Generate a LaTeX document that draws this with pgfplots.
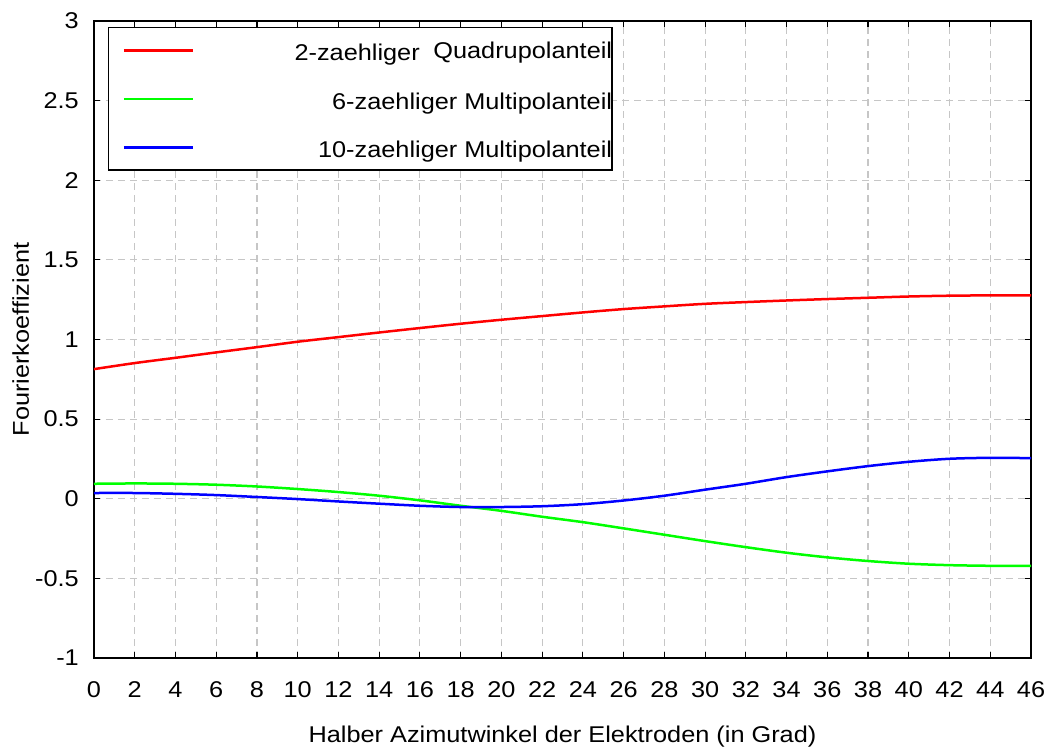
\documentclass[border=0pt]{standalone}
\usepackage{fontspec}
\setmainfont[FakeStretch=1.11]{Liberation Sans}
\usepackage{pgfplots}
\pgfplotsset{compat=1.18}

\pgfplotstableread{
x     a2     a6      a10
0     0.814  0.094   0.036
2     0.852  0.096   0.036
4     0.885  0.094   0.031
6     0.919  0.088   0.023
8     0.952  0.077   0.011
10    0.986  0.061  -0.002
12    1.015  0.042  -0.017
14    1.044  0.019  -0.031
16    1.072 -0.010  -0.044
18    1.099 -0.044  -0.052
20    1.124 -0.076  -0.052
22    1.147 -0.113  -0.047
24    1.170 -0.147  -0.034
26    1.191 -0.186  -0.011
28    1.208 -0.226   0.019
30    1.224 -0.266   0.057
32    1.235 -0.304   0.094
34    1.245 -0.339   0.136
36    1.254 -0.368   0.172
38    1.262 -0.391   0.205
40    1.270 -0.408   0.232
42    1.275 -0.417   0.251
44    1.277 -0.421   0.257
46    1.277 -0.421   0.255
}\coeffs

\newcommand\chartfont{\fontsize{22.8bp}{27bp}\selectfont}
\newcommand\entry[1]{\makebox[404bp][r]{\rule[-5bp]{0pt}{27bp}#1\hspace*{-14bp}}}

\begin{document}
\begin{tikzpicture}
\begin{axis}[
  at={(0,0)}, anchor=south west,
  scale only axis, width=937bp, height=637bp,
  xmin=0, xmax=46, ymin=-1, ymax=3,
  xtick={0,2,...,46},
  ytick={-1,-0.5,0,0.5,1,1.5,2,2.5,3},
  yticklabels={-1,-0.5,0,0.5,1,1.5,2,2.5,3},
  tick align=inside,
  major tick length=6bp,
  tick style={black, line width=1.1bp},
  axis line style={black, line width=1.3bp},
  grid=major,
  major grid style={gray!45, line width=1.1bp, dash pattern=on 7bp off 5bp},
  /pgf/number format/assume math mode=true,
  tick label style={font=\chartfont},
  xticklabel style={anchor=base, inner sep=0pt, yshift=-39bp},
  yticklabel style={anchor=east, inner sep=0pt, xshift=-15bp},
  label style={font=\chartfont},
  xlabel={Halber Azimutwinkel der Elektroden (in Grad)},
  ylabel={Fourierkoeffizient},
  xlabel style={at={(axis description cs:0.5,-0.133)}, anchor=base},
  ylabel style={at={(axis description cs:-0.0694,0.5)}, anchor=base, rotate=0},
  legend image code/.code={\draw[#1] (0bp,0bp) -- (69bp,0bp);},
  legend style={
    at={(axis description cs:0.0149,0.9906)}, anchor=north west,
    draw=black, line width=1.3bp, fill=white,
    inner xsep=14bp, inner ysep=11bp,
    row sep=25bp, column sep=0pt,
    nodes={inner sep=0pt},
    font=\chartfont,
  },
  legend cell align=left,
]
\addplot[red, line width=2.5bp, smooth] table[x=x, y=a2] {\coeffs};
\addlegendentry{\entry{2-zaehliger\hspace{0.6em}\raisebox{2bp}{Quadrupolanteil}}}
\addplot[green, line width=2.5bp, smooth] table[x=x, y=a6] {\coeffs};
\addlegendentry{\entry{6-zaehliger Multipolanteil}}
\addplot[blue, line width=2.5bp, smooth] table[x=x, y=a10] {\coeffs};
\addlegendentry{\entry{10-zaehliger Multipolanteil}}
\end{axis}
\pgfresetboundingbox
\path (-94bp,-89bp) rectangle (954bp,658bp);
\end{tikzpicture}
\end{document}
